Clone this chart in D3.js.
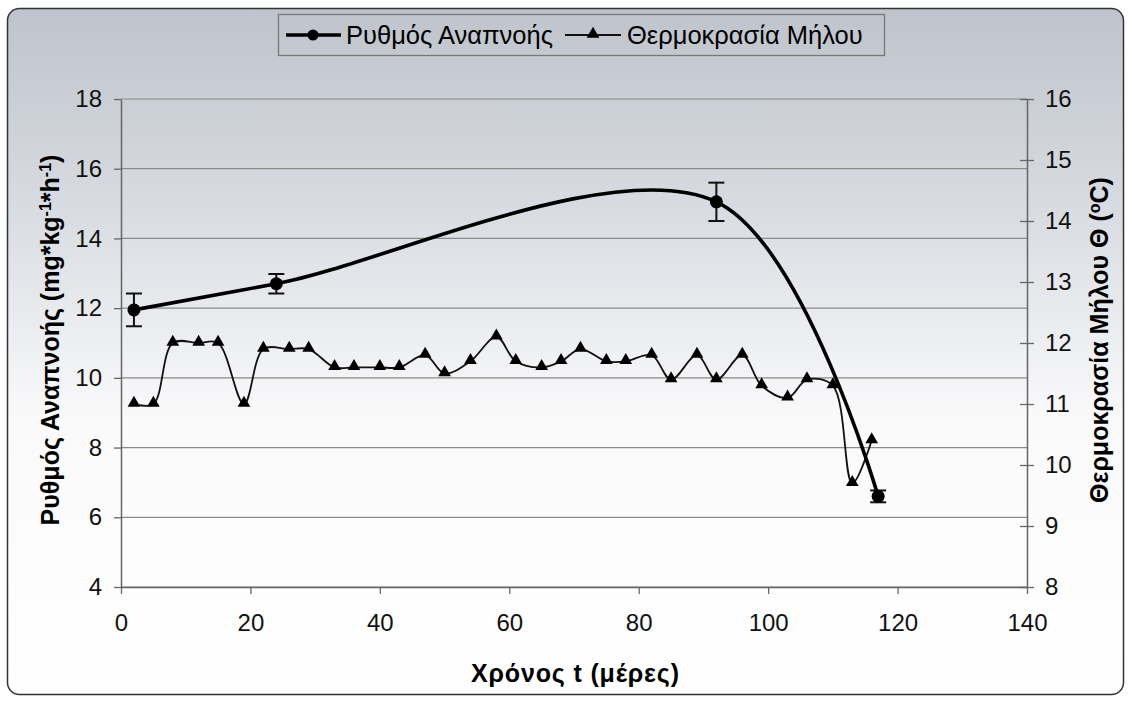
<!DOCTYPE html>
<html>
<head>
<meta charset="utf-8">
<script src="https://cdn.jsdelivr.net/npm/d3@7"></script>
<style>
  body { margin: 0; background: #fff; }
  svg { display: block; font-family: "Liberation Sans", Arial, sans-serif; }
</style>
</head>
<body>
<svg id="chart" width="1132" height="702"></svg>
<script>
// respiration rate (left axis), with error bars
const respDays = [2, 24, 92, 117];
const respRate = [11.95, 12.7, 15.05, 6.6];
const respErr = [0.47, 0.28, 0.55, 0.17];

// apple temperature (right axis)
const tempDays = [2, 5, 8, 12, 15, 19, 22, 26, 29, 33, 36, 40, 43, 47, 50, 54, 58, 61, 65, 68,
                  71, 75, 78, 82, 85, 89, 92, 96, 99, 103, 106, 110, 113, 116];
const tempVals = [11.0, 11.0, 12.0, 12.0, 12.0, 11.0, 11.9, 11.9, 11.9, 11.6, 11.6, 11.6, 11.6, 11.8, 11.5, 11.7, 12.1, 11.7, 11.6, 11.7,
                  11.9, 11.7, 11.7, 11.8, 11.4, 11.8, 11.4, 11.8, 11.3, 11.1, 11.4, 11.3, 9.7, 10.4];

const xTicks = [0, 20, 40, 60, 80, 100, 120, 140];
const leftTicks = [4, 6, 8, 10, 12, 14, 16, 18];
const rightTicks = [8, 9, 10, 11, 12, 13, 14, 15, 16];

const svg = d3.select("#chart");

// background gradient + rounded frame
const defs = svg.append("defs");
const grad = defs.append("linearGradient")
    .attr("id", "bg").attr("x1", 0).attr("y1", 0).attr("x2", 0).attr("y2", 1);
grad.append("stop").attr("offset", "0%").attr("stop-color", "#bfc3cb");
grad.append("stop").attr("offset", "30%").attr("stop-color", "#d9dce2");
grad.append("stop").attr("offset", "60%").attr("stop-color", "#fafafb");
grad.append("stop").attr("offset", "100%").attr("stop-color", "#ffffff");

svg.append("rect")
    .attr("x", 7.5).attr("y", 8.5)
    .attr("width", 1116).attr("height", 686)
    .attr("rx", 12)
    .attr("fill", "url(#bg)")
    .attr("stroke", "#333").attr("stroke-width", 1.5);

const x = d3.scaleLinear().domain([0, 140]).range([121, 1027]);
const yL = d3.scaleLinear().domain([4, 18]).range([587, 99]);
const yR = d3.scaleLinear().domain([8, 16]).range([587, 99]);

// gridlines
svg.append("g")
    .selectAll("line")
    .data(leftTicks)
    .join("line")
        .attr("x1", x(0)).attr("x2", x(140))
        .attr("y1", d => yL(d)).attr("y2", d => yL(d))
        .attr("stroke", "#8a8a8a").attr("stroke-width", 1.2);

// axes
const axisStyle = g => {
    g.selectAll(".domain").attr("stroke", "#666").attr("stroke-width", 1.5);
    g.selectAll(".tick line").attr("stroke", "#666").attr("stroke-width", 1.3);
    g.selectAll("text").attr("font-size", 24).attr("fill", "#111")
        .attr("font-family", "'Liberation Sans', Arial, sans-serif");
};

svg.append("g")
    .attr("transform", `translate(${x(0)},0)`)
    .call(d3.axisLeft(yL).tickValues(leftTicks).tickSize(7).tickSizeOuter(0).tickPadding(12))
    .call(axisStyle);

svg.append("g")
    .attr("transform", `translate(${x(140)},0)`)
    .call(d3.axisRight(yR).tickValues(rightTicks).tickSize(7).tickSizeOuter(0).tickPadding(11))
    .call(axisStyle)
    .call(g => g.selectAll(".tick line").attr("x1", -7));

svg.append("g")
    .attr("transform", `translate(0,${yL(4)})`)
    .call(d3.axisBottom(x).tickValues(xTicks).tickSize(7).tickSizeOuter(0).tickPadding(20))
    .call(axisStyle);

// temperature line
const tempData = tempDays.map((d, i) => [d, tempVals[i]]);
svg.append("path")
    .datum(tempData)
    .attr("fill", "none")
    .attr("stroke", "#111").attr("stroke-width", 1.8)
    .attr("d", d3.line().x(d => x(d[0])).y(d => yR(d[1])).curve(d3.curveCatmullRom));

const tri = d3.symbol().type(d3.symbolTriangle).size(70);
svg.append("g")
    .selectAll("path")
    .data(tempData)
    .join("path")
        .attr("transform", d => `translate(${x(d[0])},${yR(d[1]) - 1})`)
        .attr("d", tri)
        .attr("fill", "#000");

// respiration line
const respData = respDays.map((d, i) => ({day: d, v: respRate[i], e: respErr[i]}));
svg.append("path")
    .datum(respData)
    .attr("fill", "none")
    .attr("stroke", "#000").attr("stroke-width", 3.6)
    .attr("d", d3.line().x(d => x(d.day)).y(d => yL(d.v)).curve(d3.curveCatmullRom));

const eb = svg.append("g").attr("stroke", "#111").attr("stroke-width", 2);
eb.selectAll("line.v")
    .data(respData).join("line").attr("class", "v")
    .attr("x1", d => x(d.day)).attr("x2", d => x(d.day))
    .attr("y1", d => yL(d.v + d.e)).attr("y2", d => yL(d.v - d.e));
eb.selectAll("line.t")
    .data(respData).join("line").attr("class", "t")
    .attr("x1", d => x(d.day) - 8).attr("x2", d => x(d.day) + 8)
    .attr("y1", d => yL(d.v + d.e)).attr("y2", d => yL(d.v + d.e));
eb.selectAll("line.b")
    .data(respData).join("line").attr("class", "b")
    .attr("x1", d => x(d.day) - 8).attr("x2", d => x(d.day) + 8)
    .attr("y1", d => yL(d.v - d.e)).attr("y2", d => yL(d.v - d.e));

svg.append("g")
    .selectAll("circle")
    .data(respData)
    .join("circle")
        .attr("cx", d => x(d.day)).attr("cy", d => yL(d.v))
        .attr("r", 6.5)
        .attr("fill", "#000");

// axis titles
svg.append("text")
    .attr("x", 575).attr("y", 682)
    .attr("text-anchor", "middle")
    .attr("font-size", 25).attr("font-weight", "bold")
    .attr("textLength", 208)
    .text("Χρόνος t (μέρες)");

const lt = svg.append("text")
    .attr("transform", "translate(59,340) rotate(-90)")
    .attr("text-anchor", "middle")
    .attr("font-size", 25).attr("font-weight", "bold");
lt.append("tspan").text("Ρυθμός Αναπνοής (mg*kg");
lt.append("tspan").attr("baseline-shift", "super").attr("font-size", 16).text("-1");
lt.append("tspan").text("*h");
lt.append("tspan").attr("baseline-shift", "super").attr("font-size", 16).text("-1");
lt.append("tspan").text(")");

const rt = svg.append("text")
    .attr("transform", "translate(1108,340) rotate(-90)")
    .attr("text-anchor", "middle")
    .attr("font-size", 25).attr("font-weight", "bold");
rt.append("tspan").text("Θερμοκρασία Μήλου Θ (");
rt.append("tspan").attr("baseline-shift", "super").attr("font-size", 16).text("o");
rt.append("tspan").text("C)");

// legend
const lg = svg.append("g");
lg.append("rect")
    .attr("x", 278.5).attr("y", 14.5).attr("width", 606).attr("height", 41)
    .attr("fill", "none").attr("stroke", "#777").attr("stroke-width", 1.3);
lg.append("line").attr("x1", 286).attr("x2", 341).attr("y1", 35).attr("y2", 35)
    .attr("stroke", "#000").attr("stroke-width", 3.6);
lg.append("circle").attr("cx", 313).attr("cy", 35).attr("r", 5.5).attr("fill", "#000");
lg.append("text").attr("x", 346).attr("y", 44).attr("font-size", 25.5).text("Ρυθμός Αναπνοής");
lg.append("line").attr("x1", 565).attr("x2", 621).attr("y1", 35).attr("y2", 35)
    .attr("stroke", "#111").attr("stroke-width", 1.8);
lg.append("path").attr("transform", "translate(593,34)").attr("d", tri).attr("fill", "#000");
lg.append("text").attr("x", 627).attr("y", 44).attr("font-size", 25.5).text("Θερμοκρασία Μήλου");
</script>
</body>
</html>
